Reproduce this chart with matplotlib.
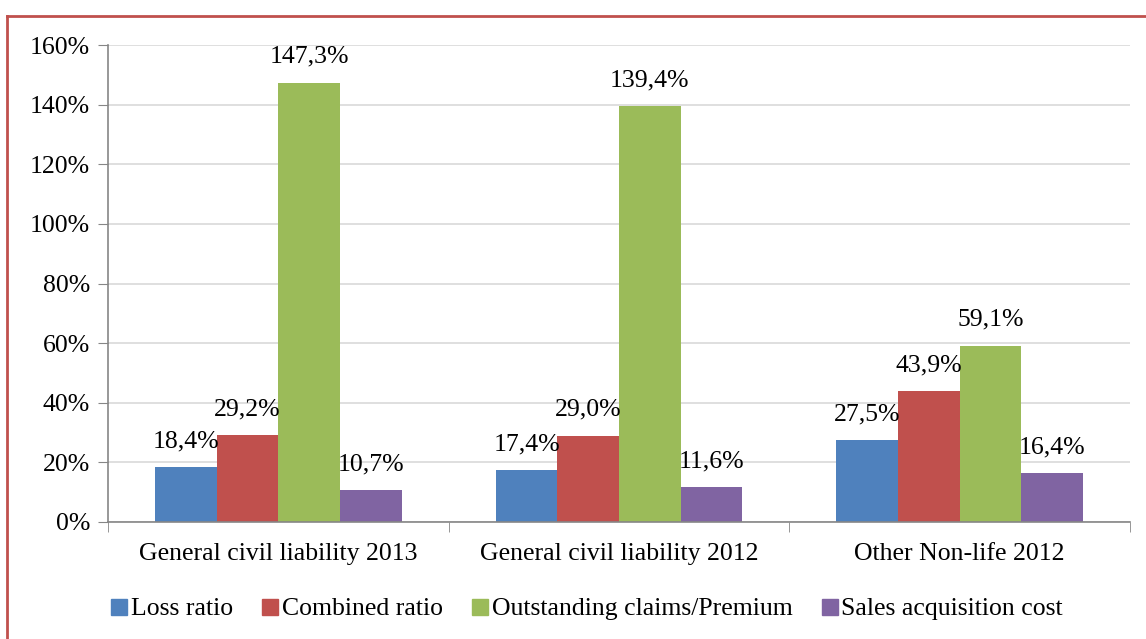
import matplotlib
matplotlib.use("Agg")
import matplotlib.pyplot as plt
import numpy as np
from matplotlib.lines import Line2D
from matplotlib.ticker import FuncFormatter

categories = ["General civil liability 2013", "General civil liability 2012", "Other Non-life 2012"]
series = ["Loss ratio", "Combined ratio", "Outstanding claims/Premium", "Sales acquisition cost"]
loss_ratio = [18.4, 17.4, 27.5]
combined_ratio = [29.2, 29.0, 43.9]
outstanding = [147.3, 139.4, 59.1]
acquisition = [10.7, 11.6, 16.4]
values = [loss_ratio, combined_ratio, outstanding, acquisition]
colors = ["#4F81BD", "#C0504D", "#9BBB59", "#8064A2"]

plt.rcParams["font.family"] = ["Liberation Serif", "DejaVu Serif"]
FS = 18.5

fig = plt.figure(figsize=(11.46, 6.39), dpi=100)
ax = fig.add_axes([108 / 1146, 1 - 522 / 639, (1130 - 108) / 1146, (522 - 45) / 639])

x = np.arange(len(categories))
bw = 0.181
for i, (vals, col) in enumerate(zip(values, colors)):
    pos = x + (i - 1.5) * bw
    ax.bar(pos, vals, width=bw, color=col, zorder=3)
    for p, v in zip(pos, vals):
        ax.text(p, v + 8.7, f"{v:.1f}%".replace(".", ","), ha="center", va="center",
                fontsize=FS, zorder=4)

ax.set_xlim(-0.5, len(categories) - 0.5)
ax.set_ylim(0, 160)
ax.set_yticks(np.arange(0, 161, 20))
ax.yaxis.set_major_formatter(FuncFormatter(lambda v, _: f"{v:.0f}%"))
ax.set_xticks(x)
ax.set_xticklabels(categories)
ax.set_xticks(np.arange(-0.5, len(categories), 1), minor=True)
ax.tick_params(axis="x", which="major", length=0, pad=15, labelsize=FS)
ax.tick_params(axis="x", which="minor", length=7, color="#868686", direction="out")
ax.tick_params(axis="y", length=7, color="#868686", direction="out", pad=6, labelsize=FS)
ax.grid(axis="y", color="#D9D9D9", linewidth=1.2, zorder=0)
for s in ["top", "right"]:
    ax.spines[s].set_visible(False)
for s in ["left", "bottom"]:
    ax.spines[s].set_color("#868686")
    ax.spines[s].set_linewidth(1.2)
ax.spines["bottom"].set_zorder(5)

handles = [Line2D([], [], marker="s", linestyle="none", markersize=11, color=c) for c in colors]
fig.legend(handles, series, loc="center", bbox_to_anchor=(0.512, 1 - 609 / 639), ncol=4,
           frameon=False, fontsize=FS, handletextpad=0.1, columnspacing=1.1, handlelength=0.7)

# red outline of the chart area (top and left edges visible)
fig.add_artist(Line2D([7 / 1146, 1.01], [1 - 16 / 639] * 2, transform=fig.transFigure,
                      color="#C0504D", linewidth=2))
fig.add_artist(Line2D([7 / 1146] * 2, [1 - 16 / 639, -0.01], transform=fig.transFigure,
                      color="#C0504D", linewidth=2))

fig.savefig("out.png", dpi=100)
